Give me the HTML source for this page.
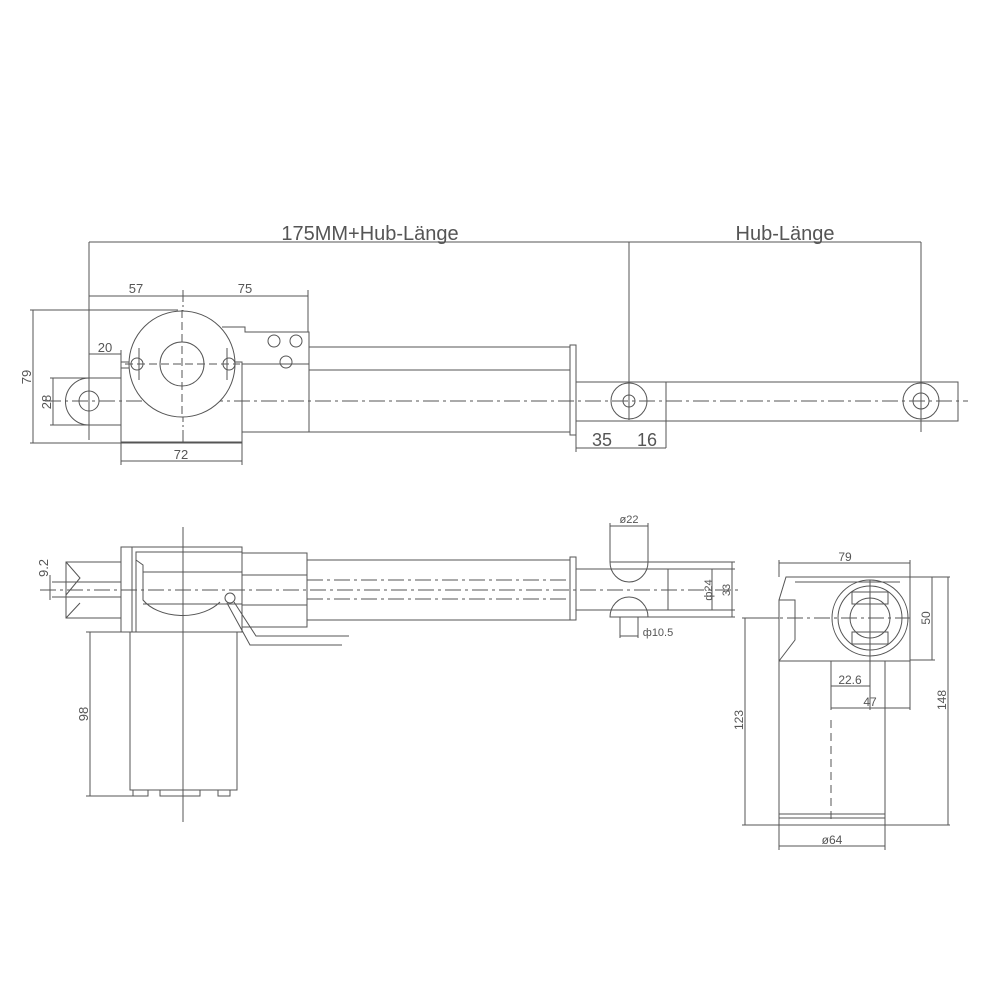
<!DOCTYPE html>
<html><head><meta charset="utf-8"><style>
html,body{margin:0;padding:0;background:#fff;}
svg{display:block;}
text{font-family:"Liberation Sans",sans-serif;fill:#555;}
</style></head><body>
<svg width="1000" height="1000" viewBox="0 0 1000 1000" xmlns="http://www.w3.org/2000/svg">
<g stroke="#555" stroke-width="1" fill="none">
<!-- TOP VIEW dims -->
<line x1="89" y1="242" x2="921" y2="242"/>
<line x1="89" y1="242" x2="89" y2="440"/>
<line x1="629" y1="242" x2="629" y2="420"/>
<line x1="921" y1="242" x2="921" y2="430"/>
<line x1="89" y1="296" x2="308" y2="296"/>
<line x1="183" y1="290" x2="183" y2="445" stroke-dasharray="12,3,2,3"/>
<line x1="308" y1="290" x2="308" y2="332"/>
<line x1="30" y1="310" x2="178" y2="310"/>
<line x1="33" y1="310" x2="33" y2="443"/>
<line x1="30" y1="443" x2="242" y2="443"/>
<line x1="50" y1="378" x2="89" y2="378"/>
<line x1="50" y1="425" x2="89" y2="425"/>
<line x1="53" y1="378" x2="53" y2="425"/>
<line x1="89" y1="354" x2="121" y2="354"/>
<line x1="121" y1="350" x2="121" y2="362"/>
<line x1="121" y1="442" x2="121" y2="465"/>
<line x1="242" y1="442" x2="242" y2="465"/>
<line x1="121" y1="461" x2="242" y2="461"/>
<line x1="576" y1="435" x2="576" y2="452"/>
<line x1="666" y1="421" x2="666" y2="448"/>
<line x1="576" y1="448" x2="666" y2="448"/>
<!-- centerline -->
<line x1="45" y1="401" x2="968" y2="401" stroke-dasharray="16,4,3,4"/>
<!-- clevis -->
<path d="M89 378 A23 23 0 0 0 89 425"/>
<line x1="89" y1="378" x2="121" y2="378"/>
<line x1="89" y1="425" x2="121" y2="425"/>
<circle cx="89" cy="401" r="10"/>
<!-- gearbox -->
<rect x="121" y="362" width="121" height="80"/>
<line x1="121" y1="368" x2="130" y2="368"/>
<circle cx="182" cy="364" r="53" fill="#fff"/>
<circle cx="182" cy="364" r="22"/>
<line x1="182" y1="310" x2="182" y2="418" stroke-dasharray="8,4"/>
<line x1="125" y1="364" x2="240" y2="364" stroke-dasharray="8,4"/>
<circle cx="137" cy="364" r="6"/><line x1="139" y1="348" x2="139" y2="380"/>
<circle cx="229" cy="364" r="6"/><line x1="227" y1="348" x2="227" y2="380"/>
<path d="M222 327 L245 327 L245 332 L309 332 L309 432 L242 432 L242 362"/>
<line x1="242" y1="364" x2="309" y2="364"/>
<circle cx="274" cy="341" r="6"/><circle cx="296" cy="341" r="6"/>
<circle cx="286" cy="362" r="6"/>
<!-- tube -->
<rect x="309" y="347" width="261" height="85"/>
<line x1="309" y1="370" x2="570" y2="370"/>
<rect x="570" y="345" width="6" height="90"/>
<!-- rod -->
<rect x="576" y="382" width="382" height="39"/>
<line x1="666" y1="382" x2="666" y2="421"/>
<circle cx="629" cy="401" r="18"/><circle cx="629" cy="401" r="6"/>
<circle cx="921" cy="401" r="18"/><circle cx="921" cy="401" r="8"/>
<line x1="921" y1="378" x2="921" y2="432"/>

<!-- BOTTOM LEFT VIEW -->
<line x1="183" y1="527" x2="183" y2="822"/>
<line x1="40" y1="590" x2="740" y2="590" stroke-dasharray="16,4,3,4"/>
<rect x="121" y="547" width="121" height="85"/>
<line x1="132" y1="547" x2="132" y2="632"/>
<path d="M136 632 L136 552 L242 552"/>
<path d="M136 560 L143 565 L143 600 A45 30 0 0 0 220 602"/>
<line x1="143" y1="572" x2="242" y2="572"/>
<line x1="143" y1="604" x2="242" y2="604"/>
<rect x="130" y="632" width="107" height="158"/>
<path d="M133 790 v6 h15 v-6 M160 790 v6 h40 v-6 M218 790 v6 h12 v-6"/>
<line x1="86" y1="632" x2="130" y2="632"/>
<line x1="86" y1="796" x2="133" y2="796"/>
<line x1="90" y1="632" x2="90" y2="796"/>
<!-- shaft left -->
<path d="M121 562 L66 562 L66 618 L121 618"/>
<path d="M66 562 L80 578 L66 595 M66 618 L80 603"/>
<line x1="52" y1="582" x2="121" y2="582"/>
<line x1="52" y1="597" x2="121" y2="597"/>
<line x1="50" y1="575" x2="50" y2="600"/>
<!-- wires -->
<circle cx="230" cy="598" r="5"/>
<path d="M234 602 L256 636 L349 636"/>
<path d="M227 603 L250 645 L342 645"/>
<!-- tube -->
<rect x="242" y="553" width="65" height="74"/>
<line x1="242" y1="575" x2="307" y2="575"/>
<line x1="242" y1="605" x2="307" y2="605"/>
<rect x="307" y="560" width="263" height="60"/>
<line x1="307" y1="580" x2="570" y2="580" stroke-dasharray="16,4,3,4"/>
<line x1="307" y1="599" x2="570" y2="599" stroke-dasharray="16,4,3,4"/>
<rect x="570" y="557" width="6" height="63"/>
<line x1="576" y1="569" x2="735" y2="569"/>
<line x1="576" y1="610" x2="735" y2="610"/>
<path d="M610 562 A19 20 0 0 0 648 562 Z"/>
<path d="M610 617 A19 20 0 0 1 648 617 Z"/>
<line x1="610" y1="523" x2="610" y2="562"/>
<line x1="648" y1="523" x2="648" y2="562"/>
<line x1="610" y1="526" x2="648" y2="526"/>
<line x1="620" y1="617" x2="620" y2="638"/>
<line x1="638" y1="617" x2="638" y2="638"/>
<line x1="620" y1="636" x2="638" y2="636"/>
<line x1="648" y1="562" x2="735" y2="562"/>
<line x1="648" y1="617" x2="735" y2="617"/>
<line x1="712" y1="569" x2="712" y2="610"/>
<line x1="732" y1="562" x2="732" y2="617"/>
<line x1="668" y1="569" x2="668" y2="610"/>

<!-- RIGHT VIEW -->
<path d="M779 661 L779 600 L786 577 L910 577 L910 661 Z"/>
<path d="M779 661 L795 640 L795 600 L779 600"/>
<line x1="795" y1="582" x2="900" y2="582"/>
<circle cx="870" cy="618" r="38"/>
<circle cx="870" cy="618" r="32"/>
<circle cx="870" cy="618" r="20"/>
<rect x="852" y="592" width="36" height="12"/>
<rect x="852" y="632" width="36" height="12"/>
<line x1="870" y1="580" x2="870" y2="710"/>
<line x1="760" y1="618" x2="910" y2="618" stroke-dasharray="16,4,3,4"/>
<rect x="779" y="661" width="106" height="157"/>
<line x1="779" y1="814" x2="885" y2="814"/>
<line x1="831" y1="661" x2="831" y2="710"/>
<line x1="831" y1="720" x2="831" y2="820" stroke-dasharray="8,5"/>
<line x1="779" y1="560" x2="779" y2="577"/>
<line x1="910" y1="560" x2="910" y2="710"/>
<line x1="779" y1="563" x2="910" y2="563"/>
<line x1="910" y1="577" x2="950" y2="577"/>
<line x1="910" y1="660" x2="935" y2="660"/>
<line x1="932" y1="577" x2="932" y2="660"/>
<line x1="948" y1="577" x2="948" y2="825"/>
<line x1="745" y1="618" x2="745" y2="825"/>
<line x1="742" y1="618" x2="779" y2="618"/>
<line x1="742" y1="825" x2="950" y2="825"/>
<line x1="831" y1="686" x2="870" y2="686"/>
<line x1="831" y1="708" x2="910" y2="708"/>
<line x1="779" y1="818" x2="779" y2="850"/>
<line x1="885" y1="818" x2="885" y2="850"/>
<line x1="779" y1="846" x2="885" y2="846"/>
</g>
<g font-size="20">
<text x="370" y="240" text-anchor="middle">175MM+Hub-Länge</text>
<text x="785" y="240" text-anchor="middle">Hub-Länge</text>
</g>
<g font-size="13">
<text x="136" y="293" text-anchor="middle">57</text>
<text x="245" y="293" text-anchor="middle">75</text>
<text x="105" y="352" text-anchor="middle">20</text>
<text x="181" y="459" text-anchor="middle">72</text>
<text transform="translate(31 377) rotate(-90)" text-anchor="middle">79</text>
<text transform="translate(51 402) rotate(-90)" text-anchor="middle">28</text>
<text x="602" y="446" font-size="18" text-anchor="middle">35</text>
<text x="647" y="446" font-size="18" text-anchor="middle">16</text>
<text transform="translate(48 568) rotate(-90)" text-anchor="middle">9.2</text>
<text transform="translate(88 714) rotate(-90)" text-anchor="middle">98</text>
<text x="629" y="523" font-size="11" text-anchor="middle">ø22</text>
<text x="658" y="636" font-size="11" text-anchor="middle">ф10.5</text>
<text transform="translate(712 590) rotate(-90)" font-size="11" text-anchor="middle">ф24</text>
<text transform="translate(730 590) rotate(-90)" font-size="11" text-anchor="middle">33</text>
<text x="845" y="561" font-size="12" text-anchor="middle">79</text>
<text transform="translate(930 618) rotate(-90)" font-size="12" text-anchor="middle">50</text>
<text transform="translate(946 700) rotate(-90)" font-size="12" text-anchor="middle">148</text>
<text transform="translate(743 720) rotate(-90)" font-size="12" text-anchor="middle">123</text>
<text x="850" y="684" font-size="12" text-anchor="middle">22.6</text>
<text x="870" y="706" font-size="12" text-anchor="middle">47</text>
<text x="832" y="844" font-size="12" text-anchor="middle">ø64</text>
</g>
</svg>
</body></html>
